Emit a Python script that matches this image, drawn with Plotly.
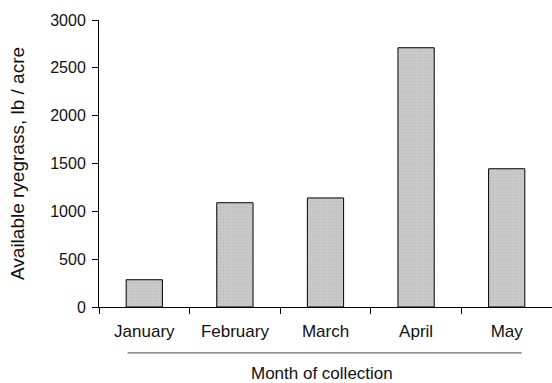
import plotly.graph_objects as go

months = ["January", "February", "March", "April", "May"]
ryegrass = [285, 1090, 1140, 2710, 1445]
y_ticks = [0, 500, 1000, 1500, 2000, 2500, 3000]

FONT = "Liberation Sans, Arial, sans-serif"

fig = go.Figure()
fig.add_trace(go.Bar(
    x=months, y=ryegrass, width=0.4,
    marker=dict(color="#c6c6c6", line=dict(color="#000000", width=1),
                pattern=dict(shape=".", fgcolor="#b4b4b4", bgcolor="#cacaca", size=3, solidity=0.3)),
))

fig.update_layout(
    width=552, height=383,
    margin=dict(l=99, r=0, t=20, b=76),
    paper_bgcolor="white", plot_bgcolor="white",
    showlegend=False,
    font=dict(family=FONT, color="#111111", size=17),
    xaxis=dict(
        showline=True, linecolor="black", linewidth=1,
        ticks="outside", ticklen=6, tickcolor="black",
        tickson="boundaries", showgrid=False,
        tickfont=dict(size=17), ticklabelstandoff=9,
    ),
    yaxis=dict(
        range=[0, 3000], tickvals=y_ticks,
        showline=True, linecolor="black", linewidth=1,
        ticks="outside", ticklen=6, tickcolor="black",
        showgrid=False, zeroline=False,
        tickfont=dict(size=16), ticklabelstandoff=3,
        title=dict(text="Available ryegrass, lb / acre", font=dict(size=19), standoff=20),
    ),
    shapes=[dict(type="line", xref="paper", yref="paper",
                 x0=0.063, x1=0.933, y0=-0.16, y1=-0.16,
                 line=dict(color="#444444", width=1))],
    annotations=[dict(text="Month of collection", xref="paper", yref="paper",
                      x=0.4916, y=-0.23, showarrow=False,
                      xanchor="center", yanchor="middle", font=dict(size=17))],
)

fig.write_html("out.html", config={"displayModeBar": False},
               post_script="document.body.style.margin='0px';document.body.style.overflow='hidden';")
